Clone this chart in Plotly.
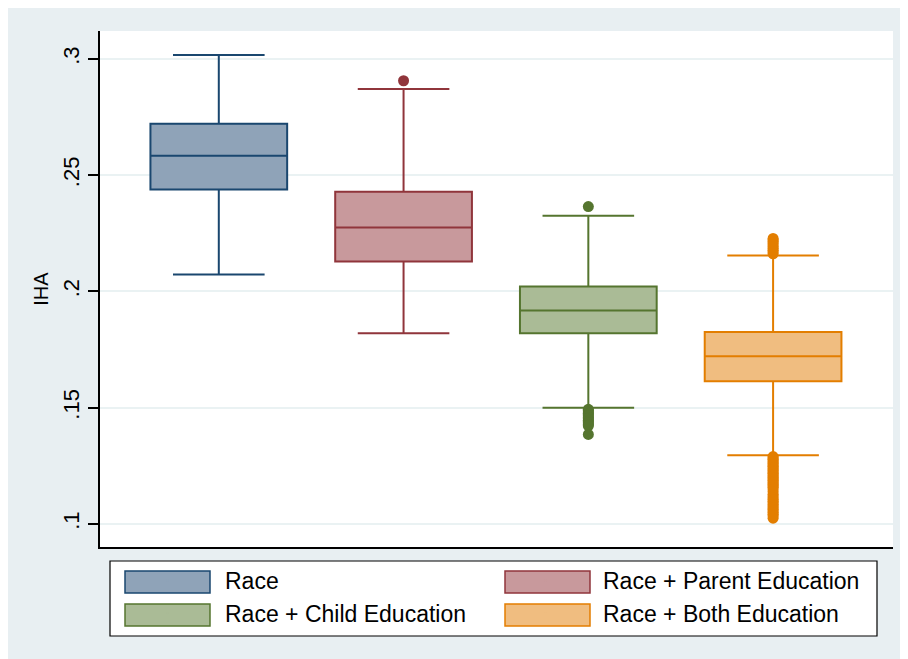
import plotly.graph_objects as go

# ---- data ----
names = ["Race", "Race + Parent Education", "Race + Child Education", "Race + Both Education"]
positions = [1, 2, 3, 4]
q1 = [0.2438, 0.2129, 0.1820, 0.1614]
median = [0.2584, 0.2275, 0.1918, 0.1721]
q3 = [0.2721, 0.2429, 0.2021, 0.1826]
lower_whisker = [0.2073, 0.1820, 0.1500, 0.1296]
upper_whisker = [0.3017, 0.2871, 0.2326, 0.2155]

outliers_race = []
outliers_parent = [0.2906]
outliers_child = [0.2365, 0.1493, 0.1488, 0.1482, 0.1476, 0.1470, 0.1464, 0.1458, 0.1452,
                  0.1446, 0.1440, 0.1434, 0.1428, 0.1422, 0.1385]
outliers_both = [0.2228, 0.2222, 0.2215, 0.2208, 0.2200, 0.2192, 0.2185, 0.2177, 0.2170, 0.2162,
                 0.1290, 0.1284, 0.1278, 0.1272, 0.1266, 0.1260, 0.1254, 0.1248, 0.1242,
                 0.1236, 0.1230, 0.1224, 0.1218, 0.1212, 0.1206, 0.1200, 0.1194, 0.1188,
                 0.1182, 0.1176, 0.1170, 0.1164, 0.1158, 0.1150, 0.1140, 0.1128, 0.1120,
                 0.1112, 0.1105, 0.1098, 0.1091, 0.1084, 0.1077, 0.1070, 0.1063, 0.1056,
                 0.1049, 0.1042, 0.1035, 0.1025]
outliers = [outliers_race, outliers_parent, outliers_child, outliers_both]

tick_vals = [0.1, 0.15, 0.2, 0.25, 0.3]
tick_text = [".1", ".15", ".2", ".25", ".3"]

line_colors = ["#1a476f", "#90353b", "#55752f", "#e37e00"]
fill_colors = ["#8fa3b8", "#c8999c", "#aabb96", "#f0bd80"]

FONT = "Liberation Sans, Arial, sans-serif"

fig = go.Figure()
for i in range(4):
    fig.add_trace(go.Box(
        x=[positions[i]], q1=[q1[i]], median=[median[i]], q3=[q3[i]],
        lowerfence=[lower_whisker[i]], upperfence=[upper_whisker[i]],
        name=names[i], width=0.74, whiskerwidth=0.67,
        fillcolor=fill_colors[i], line=dict(color=line_colors[i], width=2),
        boxpoints=False, hoverinfo="skip", showlegend=False,
    ))
for i in range(4):
    if outliers[i]:
        fig.add_trace(go.Scatter(
            x=[positions[i]] * len(outliers[i]), y=outliers[i], mode="markers",
            marker=dict(color=line_colors[i], size=11, symbol="circle"),
            showlegend=False, hoverinfo="skip",
        ))
# legend entries (text from the native legend; swatches drawn as shapes below)
legend_order = [0, 1, 2, 3]
for i in legend_order:
    fig.add_trace(go.Scatter(
        x=[None], y=[None], mode="markers", name=names[i],
        marker=dict(color=fill_colors[i], opacity=0, size=1), showlegend=True,
    ))

# figure is placed at (8,8) in the page; helpers take page pixel coordinates
W_FIG, H_FIG = 900, 651
L, R, T, B = 92, 885, 23, 539
def px(x):
    return (x - 8 - L) / (R - L)
def py(y):
    return (B - (y - 8)) / (B - T)

shapes = [
    dict(type="rect", xref="paper", yref="paper", x0=px(5), x1=px(903), y0=py(670), y1=py(7),
         fillcolor="#e8eff2", line=dict(width=0), layer="below"),
    dict(type="rect", xref="paper", yref="paper", x0=0, x1=1, y0=0, y1=1,
         fillcolor="white", line=dict(width=0), layer="below"),
    # legend frame
    dict(type="rect", xref="paper", yref="paper", x0=px(110), x1=px(877), y0=py(636), y1=py(561),
         fillcolor="white", line=dict(color="#000", width=1.2), layer="below"),
]
swatch_x = [(125, 210), (505, 590), (125, 210), (505, 590)]
swatch_y = [(571, 593), (571, 593), (604, 626), (604, 626)]
for k, i in enumerate(legend_order):
    shapes.append(dict(type="rect", xref="paper", yref="paper",
                       x0=px(swatch_x[k][0]), x1=px(swatch_x[k][1]),
                       y0=py(swatch_y[k][1]), y1=py(swatch_y[k][0]),
                       fillcolor=fill_colors[i], line=dict(color=line_colors[i], width=1.5),
                       layer="below"))

fig.update_layout(
    width=W_FIG, height=H_FIG,
    margin=dict(l=L, r=W_FIG - R, t=T, b=H_FIG - B, pad=0),
    paper_bgcolor="white", plot_bgcolor="white",
    shapes=shapes,
    font=dict(family=FONT, color="#000"),
    showlegend=True,
    legend=dict(
        orientation="h", x=px(110), y=py(559), xanchor="left", yanchor="top",
        borderwidth=0, bgcolor="rgba(0,0,0,0)",
        font=dict(size=23, family=FONT), itemwidth=105, entrywidth=258, traceorder="normal",
    ),
    xaxis=dict(range=[0.357, 4.649], showticklabels=False, showgrid=False, zeroline=False,
               showline=True, linecolor="#000", linewidth=1.5, ticks=""),
    yaxis=dict(range=[0.0901, 0.3120], tickvals=tick_vals, ticktext=tick_text, tickangle=-90,
               tickfont=dict(size=22), ticks="outside", ticklen=10, tickwidth=2, tickcolor="#000",
               showline=True, linecolor="#000", linewidth=1.5, zeroline=False,
               showgrid=True, gridcolor="#eaf2f3", gridwidth=1.5,
               title=dict(text="IHA", font=dict(size=20), standoff=5)),
)

fig.write_html("out.html")
